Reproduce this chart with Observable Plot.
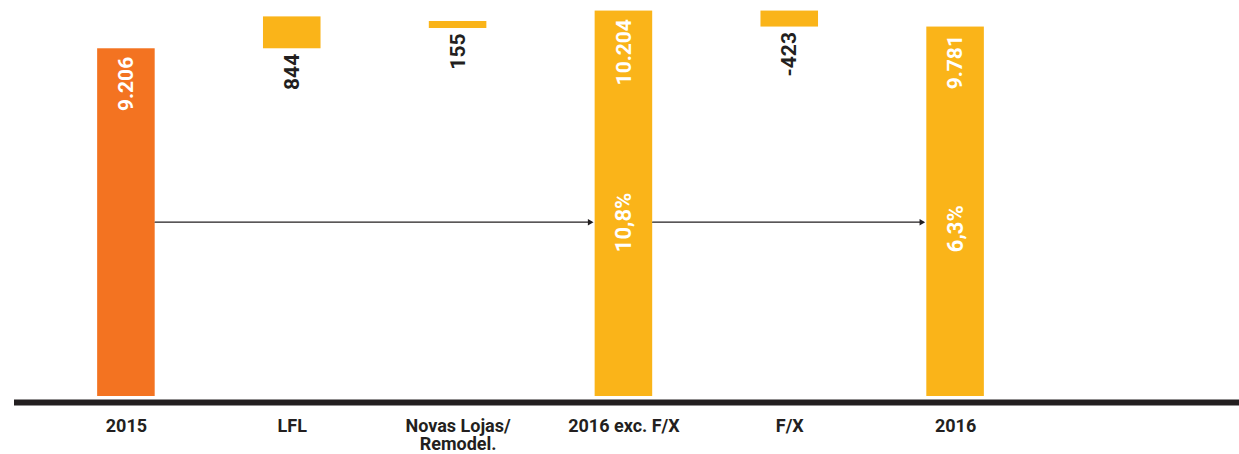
<!DOCTYPE html>
<html>
<head>
<meta charset="utf-8">
<script src="https://cdn.jsdelivr.net/npm/d3@7"></script>
<script src="https://cdn.jsdelivr.net/npm/@observablehq/plot@0.6"></script>
<style>
  html, body { margin: 0; padding: 0; background: #fff; }
  #chart svg { display: block; }
</style>
</head>
<body>
<div id="chart"></div>
<script>
// ---- data ----
const categories = ["2015", "LFL", "Novas Lojas/\nRemodel.", "2016 exc. F/X", "F/X", "2016"];
const kinds = ["total", "delta", "delta", "total", "delta", "total"];
const barStart = [0, 9206, 9743, 0, 10204, 0];
const barEnd = [9206, 10050, 9928, 10204, 9781, 9781];
const valueLabels = ["9.206", "844", "155", "10.204", "-423", "9.781"];
const growthFrom = ["2015", "2016 exc. F/X"];
const growthTo = ["2016 exc. F/X", "2016"];
const growthLabels = ["10,8%", "6,3%"];

// ---- build table ----
const rows = categories.map((c, i) => ({
  cat: c, start: barStart[i], end: barEnd[i], kind: kinds[i], label: valueLabels[i], first: i === 0,
  labelY: kinds[i] === "total" ? barEnd[i] : Math.min(barStart[i], barEnd[i])
}));
const arrows = growthFrom.map((f, i) => ({from: f, to: growthTo[i], label: growthLabels[i]}));

const ORANGE = "#F37321", YELLOW = "#FAB419", DARK = "#231F20";
const arrowLevel = 4615;
const xRange = [43, 1038], padIn = 0.653;
const half = ((xRange[1] - xRange[0]) / categories.length) * (1 - padIn) / 2;

const chart = Plot.plot({
  width: 1239,
  height: 454,
  marginLeft: 14,
  marginRight: 0,
  marginTop: 0,
  marginBottom: 52,
  style: {fontFamily: "Roboto, 'DejaVu Sans', sans-serif", background: "#fff"},
  x: {domain: categories, range: xRange, paddingInner: padIn, paddingOuter: padIn / 2, round: false},
  y: {domain: [0, 10484], range: [396, 0], axis: null},
  marks: [
    Plot.barY(rows, {x: "cat", y1: "start", y2: "end", fill: d => d.first ? ORANGE : YELLOW}),
    Plot.ruleY([0], {dy: 6, stroke: DARK, strokeWidth: 6}),
    Plot.axisX({anchor: "bottom", tickSize: 0, tickPadding: 17, fontSize: 18, fontWeight: "bold",
                fill: DARK, lineHeight: 1.0, label: null}),
    // totals: white labels inside top
    Plot.text(rows.filter(d => d.kind === "total"), {x: "cat", y: "labelY", text: "label", rotate: -90,
      textAnchor: "end", dy: 8, fill: "#fff", fontSize: 21, fontWeight: "bold"}),
    // deltas: dark labels below bar
    Plot.text(rows.filter(d => d.kind === "delta"), {x: "cat", y: "labelY", text: "label", rotate: -90,
      textAnchor: "end", dy: 5, fill: DARK, fontSize: 21, fontWeight: "bold"}),
    // growth arrows
    Plot.arrow(arrows, {x1: "from", x2: "to", y1: () => arrowLevel, y2: () => arrowLevel,
      insetStart: half, insetEnd: half + 4, headLength: 0, stroke: DARK, strokeWidth: 1.3}),
    Plot.dot(arrows, {x: "to", y: () => arrowLevel, symbol: "triangle", rotate: 90, r: 2.4,
      fill: DARK, stroke: "none", dx: -(half + 2 + 3.4)}),
    Plot.text(arrows, {x: "to", y: () => arrowLevel, text: "label", rotate: -90, textAnchor: "start",
      dy: 30, fill: "#fff", fontSize: 22, fontWeight: "bold"})
  ]
});
document.getElementById("chart").appendChild(chart);
</script>
</body>
</html>
